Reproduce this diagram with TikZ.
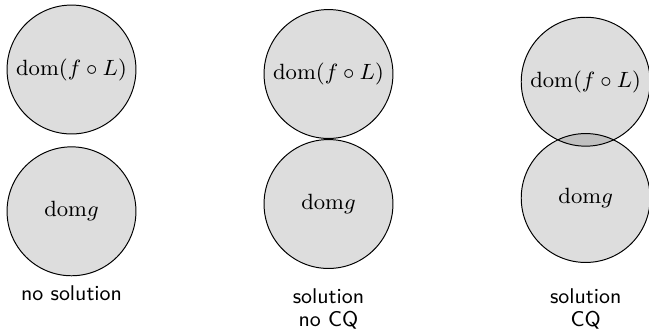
\documentclass[tikz,border=0pt]{standalone}
\definecolor{domfill}{RGB}{221,221,221}
\definecolor{lensfill}{RGB}{192,192,192}
\begin{document}
\begin{tikzpicture}[x=0.408pt,y=-0.408pt,
  domc/.style={circle,draw=black,fill=domfill,inner sep=0pt,minimum size=52.6pt,font=\fontsize{9.5pt}{11pt}\selectfont},
  lab/.style={anchor=base,inner sep=0pt,font=\sffamily\fontsize{8.7pt}{10pt}\selectfont}]
\useasboundingbox (0,0) rectangle (649,331);
% column 1
\node[domc] (f1) at (71.5,69.5) {$\mathrm{dom}(f\circ L)$};
\node[domc] (g1) at (71.5,211.3) {$\mathrm{dom}g$};
\node[lab] (t1) at (71.5,300) {no solution};
% column 2
\node[domc] (f2) at (328.5,74) {$\mathrm{dom}(f\circ L)$};
\node[domc] (g2) at (328.5,204) {$\mathrm{dom}g$};
\node[lab] (t2a) at (328.5,303.3) {solution};
\node[lab] (t2b) at (328.5,326) {no CQ};
% column 3
\node[domc,draw=none] (f3) at (585.7,81.7) {$\mathrm{dom}(f\circ L)$};
\node[domc,draw=none] (g3) at (585.7,198) {$\mathrm{dom}g$};
\begin{scope}
  \clip (f3.center) circle[radius=26.3pt];
  \fill[lensfill] (g3.center) circle[radius=26.3pt];
\end{scope}
\draw (f3.center) circle[radius=26.3pt];
\draw (g3.center) circle[radius=26.3pt];
\node[lab] (t3a) at (585.7,303.3) {solution};
\node[lab] (t3b) at (585.7,326) {CQ};
\end{tikzpicture}
\end{document}
